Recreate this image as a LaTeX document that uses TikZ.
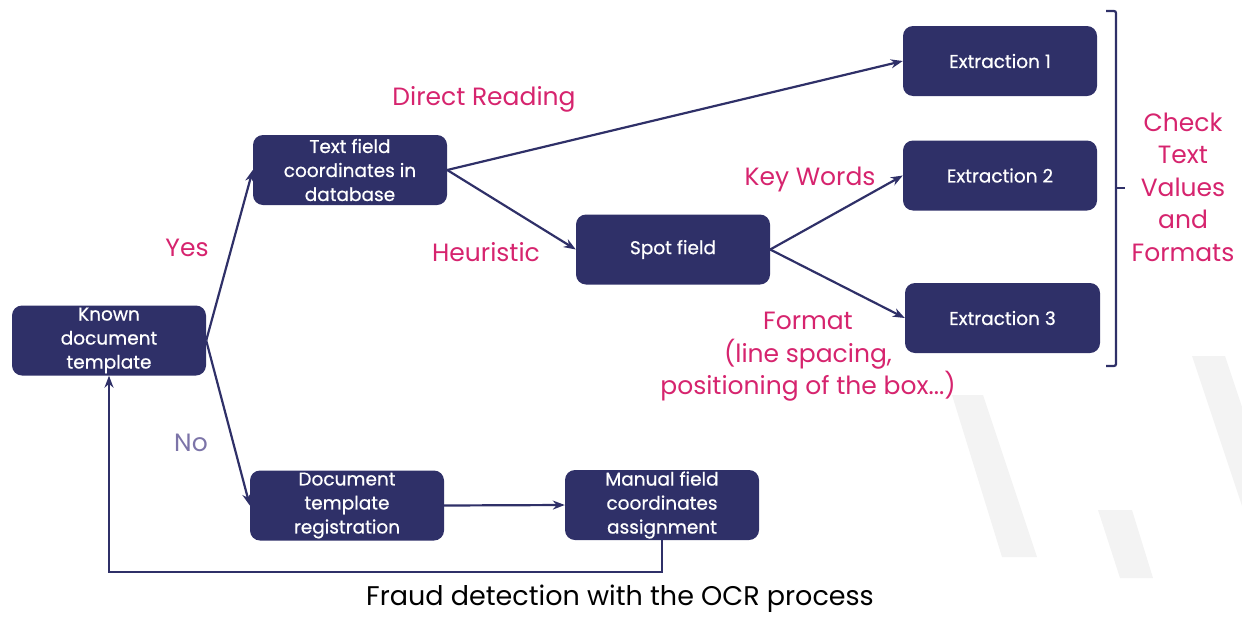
\documentclass[tikz,border=0pt]{standalone}
\usepackage{fontspec}
\setmainfont{Poppins}
\newfontfamily\boxfont{Poppins}[FakeBold=0.6]
\usetikzlibrary{arrows.meta}
\definecolor{navy}{HTML}{2F3068}
\definecolor{pinkc}{HTML}{D6246E}
\definecolor{nocol}{HTML}{7C74A8}
\definecolor{wm}{HTML}{F3F3F3}
\begin{document}
\begin{tikzpicture}[x=1pt,y=-1pt,
 box/.style={fill=navy, rounded corners=10pt, text=white, align=center, inner sep=0pt,
   minimum width=194pt, minimum height=70pt, font=\boxfont\fontsize{18.5}{24}\selectfont},
 lab/.style={text=pinkc, align=center, inner sep=0pt, font=\fontsize{25}{32.5}\selectfont},
 arr/.style={navy, line width=2.2pt, -{Stealth[length=12pt,width=9pt]}}]
\useasboundingbox (0,0) rectangle (1242,616);
% watermark
\fill[wm] (952,395) -- (983,395) -- (1037,557) -- (1002,557) -- cycle;
\fill[wm] (1098,510) -- (1132,510) -- (1153,578) -- (1120,578) -- cycle;
\fill[wm] (1192,356) -- (1225,356) -- (1242,407) -- (1242,506) -- cycle;
% boxes
\node[box] (known) at (109,340.5) {Known\\document\\template};
\node[box] (text) at (350,170) {Text field\\coordinates in\\database};
\node[box] (reg) at (347,505.5) {Document\\template\\registration};
\node[box] (spot) at (673,249.5) {Spot field};
\node[box] (man) at (662,505) {Manual field\\coordinates\\assignment};
\node[box] (e1) at (1000,61) {Extraction 1};
\node[box] (e2) at (1000,175.5) {Extraction 2};
\node[box, minimum width=195pt] (e3) at (1002.5,318) {Extraction 3};
% labels
\node[lab] (ldr) at (484,99) {Direct Reading};
\node[lab] (lyes) at (187,248) {Yes};
\node[lab] (lheu) at (486,252) {Heuristic};
\node[lab] (lkw) at (810,179) {Key Words};
\node[lab] (lfmt) at (808,357) {Format\\(line spacing,\\positioning of the box...)};
\node[lab] (lchk) at (1183,187) {Check\\Text\\Values\\and\\Formats};
\node[text=nocol, inner sep=0pt, font=\fontsize{25}{32}\selectfont] (lno) at (191,443) {No};
\node[inner sep=0pt, font=\fontsize{27}{32}\selectfont] (cap) at (620,599) {Fraud detection with the OCR process};
% connectors
\draw[arr] (known.east) -- (text.west);
\draw[arr] (known.east) -- (reg.west);
\draw[arr] (text.east) -- (e1.west);
\draw[arr] (text.east) -- (spot.west);
\draw[arr] (spot.east) -- (e2.west);
\draw[arr] (spot.east) -- (e3.west);
\draw[arr] (reg.east) -- (man.west);
\coordinate (loopc) at (662,572);
\draw[arr] (man.south) -- (loopc) -| (known.south);
% bracket
\coordinate (bt) at (1116,11);
\coordinate (bb) at (1116,366);
\draw[navy, line width=2.2pt, rounded corners=2pt] (1106,11) -- (bt) -- (bb) -- (1106,366);
\draw[navy, line width=2.2pt] (1116,188) -- (1125,188);
\end{tikzpicture}
\end{document}
